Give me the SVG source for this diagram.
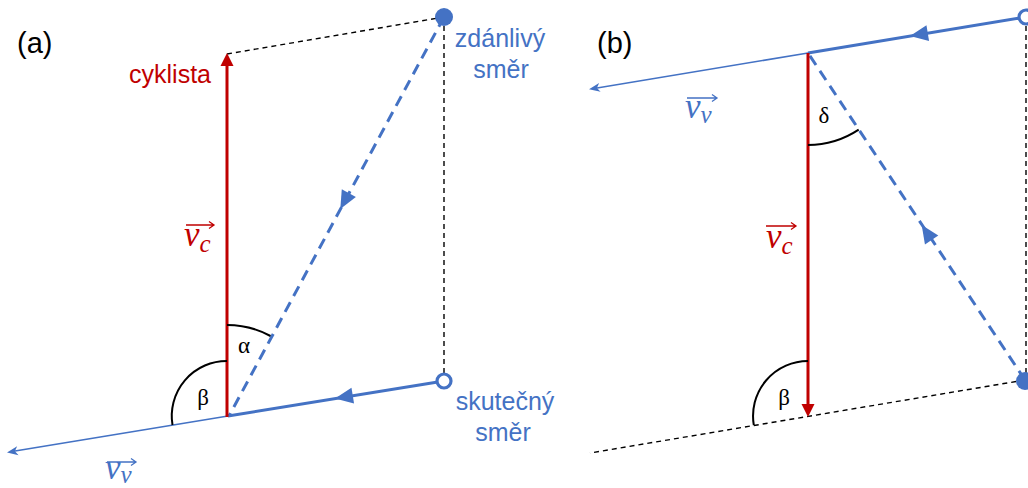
<svg xmlns="http://www.w3.org/2000/svg" width="1028" height="488" viewBox="0 0 1028 488">
<style>
.lbl{font-family:"Liberation Sans",Arial,sans-serif;font-size:25px}
.tag{font-family:"Liberation Sans",Arial,sans-serif;font-size:29px;fill:#000}
.gr{font-family:"Liberation Serif","DejaVu Serif",serif;font-size:23px;fill:#000}
.math{font-family:"Liberation Serif","DejaVu Serif",serif;font-style:italic}
.blue{fill:#4472C4}
.red{fill:#C00000}
.thick{stroke:#4472C4;stroke-width:3;fill:none}
.thin{stroke:#4472C4;stroke-width:1.5;fill:none}
.dashb{stroke:#4472C4;stroke-width:3;fill:none;stroke-dasharray:11 7}
.dashk{stroke:#000;stroke-width:1.4;fill:none;stroke-dasharray:5 4}
.redl{stroke:#C00000;stroke-width:3;fill:none}
.arc{stroke:#000;stroke-width:2;fill:none}
.vec{fill:none;stroke-width:1.3}
</style>
<defs>
<path id="ah" d="M0,0 L-18,-8 L-18,8 Z"/>
<path id="ahs" d="M0,0 L-11,-4.5 L-8,0 L-11,4.5 Z"/>
<path id="ahr" d="M0,0 L-13,-6.5 L-13,6.5 Z"/>
</defs>

<g id="connectors">
<!-- panel a -->
<line class="dashk" x1="227" y1="54" x2="444" y2="17"/>
<line class="dashk" x1="444" y1="17" x2="444" y2="381"/>
<line class="dashb" x1="444" y1="17" x2="229" y2="416"/>
<line class="thick" x1="444" y1="381" x2="228" y2="416"/>
<line class="thin" x1="228" y1="416" x2="12" y2="451.5"/>
<line class="redl" x1="227" y1="417" x2="227" y2="64"/>
<use href="#ahr" class="red" transform="translate(227,53) rotate(-90)"/>
<use href="#ah" class="blue" transform="translate(335,398.5) rotate(170.7)"/>
<use href="#ah" class="blue" transform="translate(340.3,209) rotate(118.3)"/>
<use href="#ahs" class="blue" transform="translate(7,452.5) rotate(170.75)"/>
<path class="arc" d="M227,325 A91,91 0 0 1 270.5,336"/>
<path class="arc" d="M227,361 A55,55 0 0 0 172.5,425"/>
<!-- panel b -->
<line class="dashk" x1="1026" y1="17" x2="1026" y2="380"/>
<line class="dashk" x1="1025" y1="380" x2="590" y2="453"/>
<line class="dashb" x1="1025" y1="380" x2="808" y2="53"/>
<line class="thick" x1="1026" y1="17" x2="808" y2="53"/>
<line class="thin" x1="808" y1="53" x2="594" y2="88.5"/>
<line class="redl" x1="808" y1="53" x2="808" y2="406"/>
<use href="#ahr" class="red" transform="translate(808,417) rotate(90)"/>
<use href="#ah" class="blue" transform="translate(910,36) rotate(170.7)"/>
<use href="#ah" class="blue" transform="translate(921.7,225) rotate(-123.45)"/>
<use href="#ahs" class="blue" transform="translate(589,89.2) rotate(170.6)"/>
<path class="arc" d="M808,145 A92,92 0 0 0 858.7,129.7"/>
<path class="arc" d="M808,361 A55,55 0 0 0 753.8,425.1"/>
</g>

<g id="points">
<circle cx="444" cy="17" r="9" fill="#4472C4"/>
<circle cx="444" cy="381" r="7" fill="#fff" stroke="#4472C4" stroke-width="3.2"/>
<circle cx="1026" cy="17" r="7" fill="#fff" stroke="#4472C4" stroke-width="3.2"/>
<circle cx="1025" cy="381" r="9" fill="#4472C4"/>
</g>

<g id="label-a">
<text class="tag" x="17" y="53">(a)</text>
</g>
<g id="label-b">
<text class="tag" x="597" y="53">(b)</text>
</g>
<g id="cyklista">
<text class="lbl red" x="211" y="83" text-anchor="end">cyklista</text>
</g>
<g id="zdanlivy">
<text class="lbl blue" x="500" y="47" text-anchor="middle">zdánlivý</text>
<text class="lbl blue" x="501" y="78" text-anchor="middle">směr</text>
</g>
<g id="skutecny">
<text class="lbl blue" x="505" y="410" text-anchor="middle">skutečný</text>
<text class="lbl blue" x="503" y="441" text-anchor="middle">směr</text>
</g>
<g id="greek">
<text class="gr" x="244" y="353" text-anchor="middle">α</text>
<text class="gr" x="203" y="405" text-anchor="middle">β</text>
<text class="gr" x="824" y="123" text-anchor="middle">δ</text>
<text class="gr" x="784" y="405" text-anchor="middle">β</text>
</g>
<g id="vc-a">
<text class="math red" x="184" y="246" font-size="35">v<tspan font-size="25" dy="6">c</tspan></text>
<path class="vec" stroke="#C00000" d="M186,225 H214 M209,221.5 L214,225 L209,228.5"/>
</g>
<g id="vc-b">
<text class="math red" x="766" y="248" font-size="35">v<tspan font-size="25" dy="6">c</tspan></text>
<path class="vec" stroke="#C00000" d="M766,226 H796 M791,222.5 L796,226 L791,229.5"/>
</g>
<g id="vv-a">
<text class="math blue" x="105" y="479" font-size="35">v<tspan font-size="25" dy="4">v</tspan></text>
<path class="vec" stroke="#4472C4" d="M107,462 H136 M131,458.5 L136,462 L131,465.5"/>
</g>
<g id="vv-b">
<text class="math blue" x="685" y="118" font-size="35">v<tspan font-size="25" dy="5">v</tspan></text>
<path class="vec" stroke="#4472C4" d="M687,98 H717 M712,94.5 L717,98 L712,101.5"/>
</g>
</svg>
